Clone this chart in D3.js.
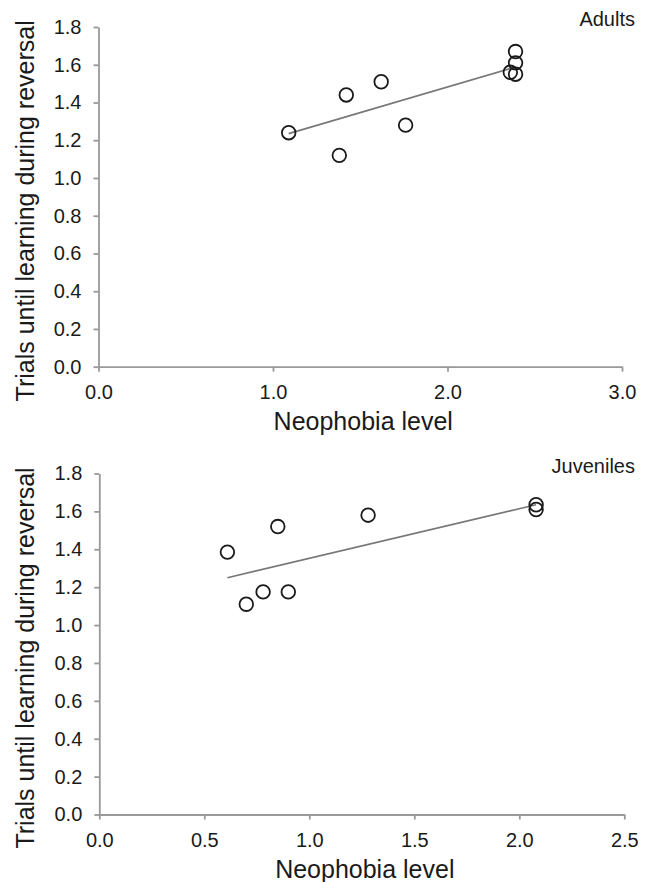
<!DOCTYPE html>
<html>
<head>
<meta charset="utf-8">
<script src="https://cdn.jsdelivr.net/npm/d3@7"></script>
<style>
  body { margin: 0; background: #fff; }
  svg { display: block; font-family: "Liberation Sans", Arial, sans-serif; }
  .axis path, .axis line { stroke: #999; stroke-width: 1.8; shape-rendering: auto; }
  .axis text { fill: #1a1a1a; font-size: 20px; font-family: "Liberation Sans", Arial, sans-serif; }
</style>
</head>
<body>
<div id="chart"></div>
<script>
// Adults panel
var adultsNeophobia = [1.09, 1.38, 1.42, 1.62, 1.76, 2.39, 2.39, 2.36, 2.39];
var adultsTrials    = [1.24, 1.12, 1.44, 1.51, 1.28, 1.67, 1.61, 1.56, 1.55];
var adultsTrendX    = [1.09, 2.36];
var adultsTrendY    = [1.235, 1.58];
var adultsXTicks    = [0, 1, 2, 3];

// Juveniles panel
var juvNeophobia = [0.61, 0.70, 0.78, 0.85, 0.90, 1.28, 2.08, 2.08];
var juvTrials    = [1.385, 1.11, 1.175, 1.52, 1.175, 1.58, 1.635, 1.61];
var juvTrendX    = [0.61, 2.08];
var juvTrendY    = [1.25, 1.635];
var juvXTicks    = [0, 0.5, 1, 1.5, 2, 2.5];

var yTicks = [0, 0.2, 0.4, 0.6, 0.8, 1.0, 1.2, 1.4, 1.6, 1.8];

var xTitle = "Neophobia level";
var yTitle = "Trials until learning during reversal";

var width = 650,
    height = 882;

var svg = d3.select("#chart")
  .append("svg")
  .attr("width", width)
  .attr("height", height);

var fmt = d3.format(".1f");

function drawPanel(p) {
  var x = d3.scaleLinear().domain([0, d3.max(p.xTicks)]).range([p.left, p.right]);
  var y = d3.scaleLinear().domain([0, 1.8]).range([p.bottom, p.top]);

  var g = svg.append("g");

  // y axis
  g.append("g")
    .attr("class", "axis")
    .attr("transform", "translate(" + p.left + ",0)")
    .call(d3.axisLeft(y).tickValues(yTicks).tickFormat(fmt)
      .tickSize(5).tickSizeOuter(0).tickPadding(12));

  // x axis
  g.append("g")
    .attr("class", "axis")
    .attr("transform", "translate(0," + p.bottom + ")")
    .call(d3.axisBottom(x).tickValues(p.xTicks).tickFormat(fmt)
      .tickSize(5).tickSizeOuter(0).tickPadding(13));

  // trend line
  var trend = d3.line()
    .x(function(d) { return x(d[0]) })
    .y(function(d) { return y(d[1]) });

  g.append("path")
    .datum(d3.zip(p.trendX, p.trendY))
    .attr("d", trend)
    .attr("fill", "none")
    .attr("stroke", "#777")
    .attr("stroke-width", 1.6);

  // points
  g.selectAll(".pt")
    .data(d3.zip(p.xs, p.ys))
    .enter().append("circle")
    .attr("class", "pt")
    .attr("cx", function(d) { return x(d[0]) })
    .attr("cy", function(d) { return y(d[1]) })
    .attr("r", 6.8)
    .attr("fill", "none")
    .attr("stroke", "#1a1a1a")
    .attr("stroke-width", 1.8);

  // panel label
  g.append("text")
    .attr("x", 635)
    .attr("y", y(1.8) - 1)
    .attr("text-anchor", "end")
    .attr("font-size", 20)
    .attr("fill", "#1a1a1a")
    .text(p.label);

  // axis titles
  g.append("text")
    .attr("x", (p.left + p.right) / 2 + 3)
    .attr("y", p.bottom + 63)
    .attr("text-anchor", "middle")
    .attr("font-size", 25)
    .attr("fill", "#1a1a1a")
    .text(xTitle);

  g.append("text")
    .attr("transform", "translate(34," + ((p.top + p.bottom) / 2 + 14) + ") rotate(-90)")
    .attr("text-anchor", "middle")
    .attr("font-size", 25)
    .attr("fill", "#1a1a1a")
    .text(yTitle);
}

drawPanel({
  label: "Adults",
  xs: adultsNeophobia, ys: adultsTrials,
  trendX: adultsTrendX, trendY: adultsTrendY,
  xTicks: adultsXTicks,
  left: 98.5, right: 622, top: 27, bottom: 366.7
});

drawPanel({
  label: "Juveniles",
  xs: juvNeophobia, ys: juvTrials,
  trendX: juvTrendX, trendY: juvTrendY,
  xTicks: juvXTicks,
  left: 99.3, right: 624.3, top: 473.5, bottom: 814.5
});
</script>
</body>
</html>
